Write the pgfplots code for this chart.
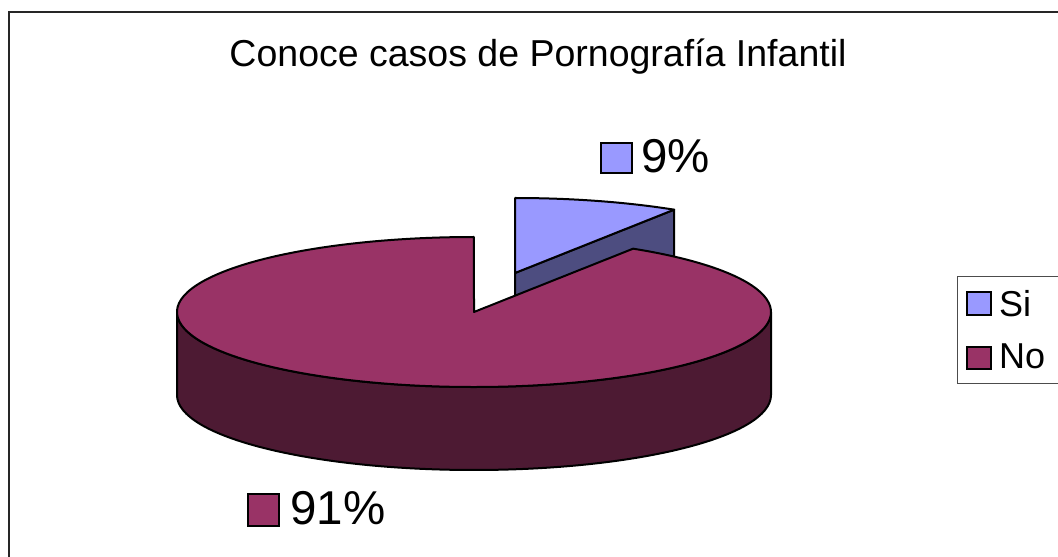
\documentclass[border=0pt]{standalone}
\usepackage{pgfplots}
\pgfplotsset{compat=1.18}
\usepackage{pgfplotstable}
\usepackage{fontspec}
\setmainfont{Liberation Sans}
\definecolor{siTop}{HTML}{9999FF}
\definecolor{siDark}{HTML}{4D4D80}
\definecolor{noTop}{HTML}{993366}
\definecolor{noDark}{HTML}{4D1A33}
\pgfplotstableread{
label value
Si 9
No 91
}\pietable
\pgfplotstablegetelem{0}{value}\of\pietable \let\vSi\pgfplotsretval
\pgfplotstablegetelem{1}{value}\of\pietable \let\vNo\pgfplotsretval
\pgfmathsetmacro{\aStart}{90}
\pgfmathsetmacro{\aMid}{90-\vSi/(\vSi+\vNo)*360}
\pgfmathsetmacro{\aEnd}{\aMid-\vNo/(\vSi+\vNo)*360}
% geometry (pt = px)
\def\rx{297}\def\ry{75}\def\dep{83}
\def\cx{474}\def\cy{245}     % No slice centre
\def\sx{515}\def\sy{284}     % Si slice centre (exploded)
\pgfmathsetmacro{\sxr}{\sx+\rx*cos(\aMid)}
\pgfmathsetmacro{\syr}{\sy+\ry*sin(\aMid)}
\pgfmathsetmacro{\nxr}{\cx+\rx*cos(\aMid)}
\pgfmathsetmacro{\nyr}{\cy+\ry*sin(\aMid)}
\begin{document}
\begin{tikzpicture}
\begin{axis}[
  x=1pt, y=1pt, xmin=0, xmax=1058, ymin=0, ymax=557,
  scale only axis, hide axis, clip=false]
\coordinate (BL) at (axis cs:0,0);
\coordinate (TR) at (axis cs:1058,557);
% frame
\draw[line width=1.5pt, black!85] (axis cs:9,-30) -- (axis cs:9,545) -- (axis cs:1100,545);
% title
\node[anchor=base, inner sep=0pt] at (axis cs:538,490) {\fontsize{37.5}{40}\selectfont Conoce casos de Pornografía Infantil};
\begin{scope}[line width=2pt, line join=round, draw=black]
% Si slice: radial face
\filldraw[fill=siDark] (axis cs:\sx,\sy) -- (axis cs:\sxr,\syr) -- (axis cs:\sxr,\syr-\dep) -- (axis cs:\sx,\sy-\dep) -- cycle;
% Si slice: top
\filldraw[fill=siTop] (axis cs:\sx,\sy) -- (axis cs:\sx,\sy+\ry) arc[start angle=\aStart, end angle=\aMid, x radius=\rx pt, y radius=\ry pt] -- cycle;
% No slice: outer side (front half)
\filldraw[fill=noDark] (axis cs:\cx-\rx,\cy) arc[start angle=180, end angle=360, x radius=\rx pt, y radius=\ry pt] -- ++(0,-\dep pt) arc[start angle=360, end angle=180, x radius=\rx pt, y radius=\ry pt] -- cycle;
% No slice: top
\filldraw[fill=noTop] (axis cs:\cx,\cy) -- (axis cs:\nxr,\nyr) arc[start angle=\aMid, end angle=\aEnd, x radius=\rx pt, y radius=\ry pt] -- cycle;
\end{scope}
% data labels
\filldraw[fill=siTop, draw=black, line width=1.7pt] (axis cs:601,384) rectangle (axis cs:632,414);
\node[anchor=base west, inner sep=0pt] at (axis cs:641,384) {\fontsize{47.5}{50}\selectfont \vSi\%};
\filldraw[fill=noTop, draw=black, line width=1.7pt] (axis cs:248,31) rectangle (axis cs:279,63);
\node[anchor=base west, inner sep=0pt] at (axis cs:290,33) {\fontsize{47.5}{50}\selectfont \vNo\%};
% legend
\draw[line width=0.8pt, black!70] (axis cs:957,174) rectangle (axis cs:1100,281);
\filldraw[fill=siTop, draw=black, line width=1.6pt] (axis cs:967,242) rectangle (axis cs:991,265);
\node[anchor=base west, inner sep=0pt] at (axis cs:999,240) {\fontsize{36}{40}\selectfont Si};
\filldraw[fill=noTop, draw=black, line width=1.6pt] (axis cs:967,188) rectangle (axis cs:991,210);
\node[anchor=base west, inner sep=0pt] at (axis cs:999,188) {\fontsize{36}{40}\selectfont No};
\end{axis}
\pgfresetboundingbox
\path (BL) rectangle (TR);
\end{tikzpicture}
\end{document}
